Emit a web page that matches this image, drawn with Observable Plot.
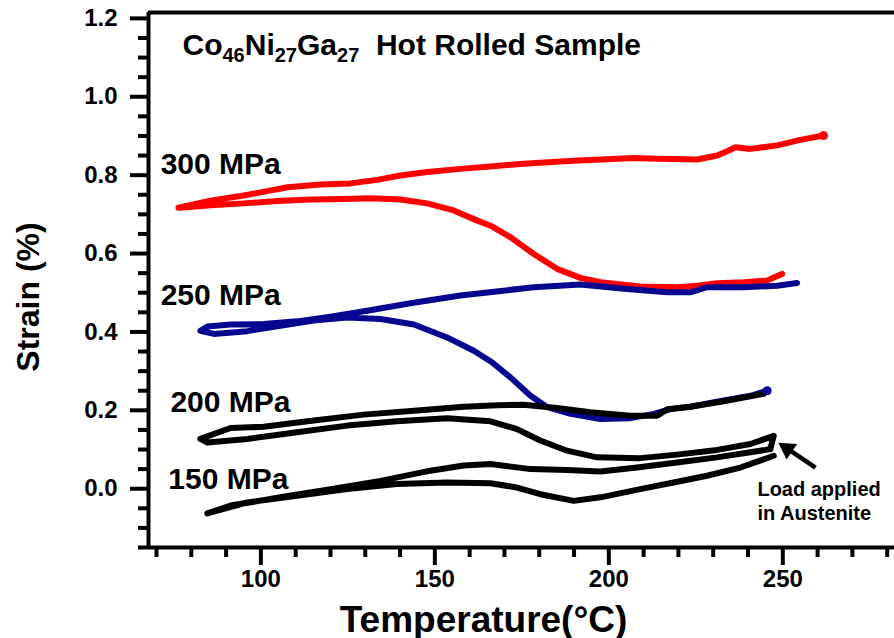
<!DOCTYPE html>
<html><head><meta charset="utf-8">
<script src="https://cdn.jsdelivr.net/npm/d3@7"></script>
<script src="https://cdn.jsdelivr.net/npm/@observablehq/plot@0.6"></script>
<style>
html,body{margin:0;padding:0;background:#fff;}
#chart{width:894px;height:638px;}
</style></head><body><div id="chart"></div>
<script>
// ---- axis ticks ----
const xTicks = [100, 150, 200, 250];
const xMinor = [70, 80, 90, 110, 120, 130, 140, 160, 170, 180, 190, 210, 220, 230, 240, 260, 270, 280];
const yTicks = [0, 0.2, 0.4, 0.6, 0.8, 1.0, 1.2];
const yMinor = [-0.15, -0.1, -0.05, 0.05, 0.1, 0.15, 0.25, 0.3, 0.35, 0.45, 0.5, 0.55, 0.65, 0.7, 0.75, 0.85, 0.9, 0.95, 1.05, 1.1, 1.15];
const xDomain = [67.7, 282.1];
const yDomain = [-0.15, 1.215];

// ---- series (temperature °C, strain %) in recorded order ----
const t300 = [249.8,247.4,245.5,238.8,231.1,225.4,219.6,209,197.6,191.8,185.1,178.4,171.7,166,162.2,155.4,147.8,140.1,131.5,123.8,114.3,104.7,95.1,85.5,76.9,76.3,85.5,95,99.9,107.6,117.1,125.7,133.4,140.1,147.8,157.3,166.8,175.5,189.8,207.1,213.9,225.4,231.1,234,236.4,240.7,248.4,255,261.7];
const s300 = [0.548,0.539,0.531,0.527,0.524,0.518,0.514,0.516,0.527,0.538,0.561,0.599,0.642,0.671,0.684,0.710,0.728,0.738,0.741,0.739,0.738,0.734,0.728,0.723,0.717,0.717,0.735,0.748,0.756,0.769,0.776,0.779,0.788,0.799,0.808,0.816,0.823,0.829,0.837,0.844,0.842,0.840,0.850,0.861,0.871,0.867,0.876,0.890,0.901];

const t250 = [245.5,240.7,233,223.4,217.7,212.9,206.2,197.6,189,182.3,177.5,171.7,166.5,161.2,153.5,144,134.4,124.8,115.2,105.6,96.1,86.5,82.6,84.6,91.3,100.8,110.4,120,130.5,143,157.3,168.4,178.4,191.8,204.3,216.7,223.4,228.2,238.8,248.4,254.1];
const s250 = [0.250,0.237,0.225,0.209,0.203,0.191,0.180,0.178,0.191,0.208,0.237,0.284,0.322,0.352,0.386,0.419,0.433,0.437,0.429,0.416,0.402,0.395,0.403,0.414,0.419,0.420,0.427,0.439,0.454,0.473,0.493,0.504,0.514,0.521,0.510,0.501,0.501,0.514,0.514,0.518,0.525];

const t200 = [246.4,247.4,240.7,231.1,219.6,209,196.6,188,180.3,173.6,166,153.5,139.1,124.8,110.4,96.1,84.6,82.6,91.3,100.8,115.2,129.5,144,158.3,168,175.5,185.1,194.7,206.2,213.9,216.8,223.4,233,244.5];
const s200 = [0.101,0.135,0.114,0.099,0.087,0.078,0.080,0.097,0.123,0.152,0.172,0.180,0.172,0.161,0.144,0.127,0.118,0.127,0.155,0.158,0.174,0.189,0.199,0.209,0.213,0.214,0.206,0.195,0.186,0.186,0.203,0.209,0.223,0.242];

const t150 = [247.4,237.8,228.2,218.6,209,197.6,189.9,180.3,173.6,166,153.5,139.1,124.8,110.4,96.1,84.6,91.3,105.6,120,134.4,148.7,158.3,166,177.5,188,197.6,208.1,219.6,231.1,240.7,246.4];
const s150 = [0.084,0.054,0.033,0.016,-0.001,-0.022,-0.031,-0.014,0.003,0.014,0.016,0.012,-0.001,-0.018,-0.035,-0.063,-0.043,-0.022,-0.001,0.020,0.046,0.059,0.063,0.050,0.048,0.044,0.054,0.067,0.080,0.093,0.101];

// ---- labels ----
const seriesNames = ["300 MPa", "250 MPa", "200 MPa", "150 MPa"];
const seriesColors = ["#ff0000", "#07078f", "#000000", "#000000"];
const labelT = [71.2, 71.2, 74.0, 73.4];
const labelS = [0.827, 0.493, 0.221, 0.023];
const noteLines = ["Load applied", "in Austenite"];
const noteT = [242.7, 242.7];
const noteS = [-0.003, -0.0625];
const arrowFrom = [259.4, 0.054];
const arrowHead = [251.3, 0.102];
const titleParts = [["Co", false], ["46", true], ["Ni", false], ["27", true], ["Ga", false], ["27", true], ["  Hot Rolled Sample", false]];
const xLabel = "Temperature(°C)";
const yLabel = "Strain (%)";

const toRows = (T, S) => T.map((t, i) => ({T: t, S: S[i]}));
const data = [toRows(t300, s300), toRows(t250, s250), toRows(t200, s200), toRows(t150, s150)];
const labels = seriesNames.map((n, i) => ({name: n, T: labelT[i], S: labelS[i]}));
const notes = noteLines.map((n, i) => ({name: n, T: noteT[i], S: noteS[i]}));
const titleText = titleParts.map(p => p[0]).join("");
const FONT = "Liberation Sans, Arial, sans-serif";

const lineMarks = data.map((rows, i) => Plot.line(rows, {x: "T", y: "S", stroke: seriesColors[i], strokeWidth: 6, strokeLinecap: "round", strokeLinejoin: "round"}));

const chart = Plot.plot({
  width: 894, height: 638,
  marginLeft: 148, marginRight: 0, marginTop: 12, marginBottom: 91,
  style: {fontFamily: FONT, fontWeight: "bold", background: "#fff", color: "#000"},
  x: {domain: xDomain},
  y: {domain: yDomain},
  marks: [
    Plot.axisX(xMinor, {tickSize: 10, strokeWidth: 4, tickFormat: () => "", label: null}),
    Plot.axisX(xTicks, {tickSize: 18, tickPadding: 4, strokeWidth: 4, label: null, fontSize: 24, fontWeight: "bold", tickFormat: d3.format("d")}),
    Plot.axisY(yMinor, {tickSize: 10, strokeWidth: 4, tickFormat: () => "", label: null}),
    Plot.axisY(yTicks, {tickSize: 18, tickPadding: 13, strokeWidth: 4, label: null, fontSize: 24, fontWeight: "bold", tickFormat: d3.format(".1f")}),
    Plot.ruleX([xDomain[0]], {strokeWidth: 4}),
    Plot.ruleY([yDomain[0]], {strokeWidth: 4}),
    Plot.ruleY([yDomain[1]], {strokeWidth: 4}),
    ...lineMarks,
    Plot.dot([data[0][data[0].length - 1], data[1][0]], {x: "T", y: "S", r: 4.5, fill: (d, i) => seriesColors[i], stroke: "none"}),
    Plot.text(labels, {x: "T", y: "S", text: "name", textAnchor: "start", lineAnchor: "middle", fontSize: 30, fontWeight: "bold", fill: "#000"}),
    Plot.text(notes, {x: "T", y: "S", text: "name", textAnchor: "start", lineAnchor: "middle", fontSize: 20, fontWeight: "bold", fill: "#000"}),
    Plot.link([{a: arrowFrom, b: arrowHead}], {x1: d => d.a[0], y1: d => d.a[1], x2: d => d.b[0], y2: d => d.b[1], strokeWidth: 4.5, stroke: "#000"}),
    Plot.dot([arrowHead], {x: d => d[0], y: d => d[1], symbol: "triangle", r: 7, rotate: -56, fill: "#000", stroke: "none"}),
    Plot.text([titleText], {text: d => d, frameAnchor: "top-left", dx: 34, dy: 21, textAnchor: "start", lineAnchor: "top", fontSize: 30, fontWeight: "bold", fill: "#000"}),
    Plot.text([yLabel], {text: d => d, frameAnchor: "left", textAnchor: "middle", lineAnchor: "middle", rotate: -90, dx: -120, dy: 17, fontSize: 32, fontWeight: "bold", fill: "#000"}),
    Plot.text([xLabel], {text: d => d, frameAnchor: "bottom", textAnchor: "middle", lineAnchor: "bottom", dx: -38, dy: 84, fontSize: 37, fontWeight: "bold", fill: "#000"})
  ]
});
document.getElementById("chart").appendChild(chart);

// subscripts in the title
d3.select(chart).selectAll("text").filter(function () { return this.textContent === titleText; }).each(function () {
  const t = d3.select(this);
  t.text(null).style("white-space", "pre");
  let shifted = false;
  titleParts.forEach(([s, sub]) => {
    const ts = t.append("tspan").text(s);
    if (sub) { ts.attr("font-size", 20).attr("dy", shifted ? 0 : 7); shifted = true; }
    else { if (shifted) ts.attr("dy", -7); shifted = false; }
  });
});
</script></body></html>
